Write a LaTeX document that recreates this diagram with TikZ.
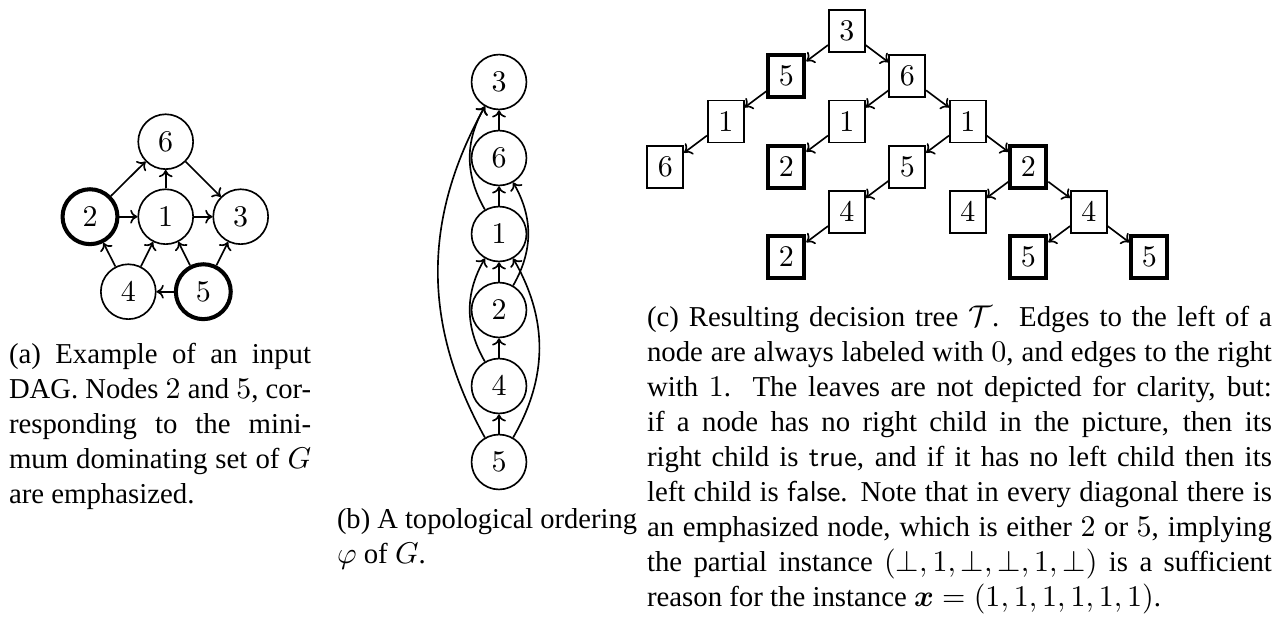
\documentclass[tikz,border=0pt]{standalone}
\usepackage[no-math]{fontspec}
\setmainfont{Liberation Serif}
\usepackage{amsmath}
\usepackage{graphicx}
\usetikzlibrary{arrows.meta}

% Set a caption line to an exact width: stretch the spaces if it is short,
% squeeze it horizontally if it is too long.
\newlength\fitnat
\newcommand\fitline[2]{%
  \settowidth\fitnat{#2}%
  \ifdim\fitnat>#1\relax\resizebox{#1}{\height}{#2}\else\makebox[#1][s]{#2}\fi}

\begin{document}
\begin{tikzpicture}[x=0.33333pt,y=0.33333pt,
  font=\fontsize{9.6}{11.67}\selectfont,
  vert/.style={circle,draw,line width=0.55pt,minimum size=18.3pt,inner sep=0pt,
    font=\fontsize{10}{12}\selectfont},
  dom/.style={line width=1.35pt},
  tnode/.style={rectangle,draw,line width=0.55pt,minimum width=12pt,minimum height=14pt,
    inner sep=0pt,font=\fontsize{10.2}{12}\selectfont},
  arc/.style={-{To[length=2.4pt,width=4.6pt]},line width=0.55pt},
  capbox/.style={anchor=base west,inner sep=0pt,outer sep=0pt}]
\useasboundingbox (0,0) rectangle (1288,-619);

% (a) the input DAG
\node[vert]     (a6) at (165.7,-141.7) {$6$};
\node[vert,dom] (a2) at (90,-216.7)    {$2$};
\node[vert]     (a1) at (165.7,-216.7) {$1$};
\node[vert]     (a3) at (240.7,-216.7) {$3$};
\node[vert]     (a4) at (128.3,-291.7) {$4$};
\node[vert,dom] (a5) at (203.3,-291.7) {$5$};
\draw[arc] (a2) -- (a6);
\draw[arc] (a6) -- (a3);
\draw[arc] (a1) -- (a6);
\draw[arc] (a2) -- (a1);
\draw[arc] (a1) -- (a3);
\draw[arc] (a4) -- (a2);
\draw[arc] (a4) -- (a1);
\draw[arc] (a5) -- (a1);
\draw[arc] (a5) -- (a3);
\draw[arc] (a5) -- (a4);

% (b) topological ordering
\node[vert] (b3) at (499,-82)  {$3$};
\node[vert] (b6) at (499,-158) {$6$};
\node[vert] (b1) at (499,-234) {$1$};
\node[vert] (b2) at (499,-310) {$2$};
\node[vert] (b4) at (499,-386) {$4$};
\node[vert] (b5) at (499,-462) {$5$};
\draw[arc] (b6) -- (b3);
\draw[arc] (b1) -- (b6);
\draw[arc] (b2) -- (b1);
\draw[arc] (b4) -- (b2);
\draw[arc] (b5) -- (b4);
\draw[arc] (b1.120) to[out=120,in=240] (b3.240);
\draw[arc] (b5.120) to[out=119,in=241] (b3.240);
\draw[arc] (b4.120) to[out=120,in=240] (b1.240);
\draw[arc] (b2.60) to[out=60,in=300] (b6.300);
\draw[arc] (b5.60) to[out=60,in=300] (b1.300);

% (c) decision tree
\node[tnode]     (t3)   at (846.8,-31)    {$3$};
\node[tnode,dom] (t5)   at (786.3,-76.3)  {$5$};
\node[tnode]     (t6)   at (907.3,-76.3)  {$6$};
\node[tnode]     (t51)  at (725.8,-121.5) {$1$};
\node[tnode]     (t516) at (665.3,-166.8) {$6$};
\node[tnode]     (t61)  at (846.8,-121.5) {$1$};
\node[tnode,dom] (t612) at (786.3,-166.8) {$2$};
\node[tnode]     (t6r)  at (967.8,-121.5) {$1$};
\node[tnode]     (tr5)  at (907.3,-166.8) {$5$};
\node[tnode]     (tr54) at (846.8,-212)   {$4$};
\node[tnode,dom] (tr542) at (786.3,-257.3) {$2$};
\node[tnode,dom] (tr2)  at (1028.3,-166.8) {$2$};
\node[tnode]     (tr24) at (967.8,-212)   {$4$};
\node[tnode]     (tr2r) at (1088.8,-212)  {$4$};
\node[tnode,dom] (tl5)  at (1028.3,-257.3) {$5$};
\node[tnode,dom] (tr5b) at (1149.3,-257.3) {$5$};
\draw[arc] (t3) -- (t5);
\draw[arc] (t3) -- (t6);
\draw[arc] (t5) -- (t51);
\draw[arc] (t51) -- (t516);
\draw[arc] (t6) -- (t61);
\draw[arc] (t61) -- (t612);
\draw[arc] (t6) -- (t6r);
\draw[arc] (t6r) -- (tr5);
\draw[arc] (tr5) -- (tr54);
\draw[arc] (tr54) -- (tr542);
\draw[arc] (t6r) -- (tr2);
\draw[arc] (tr2) -- (tr24);
\draw[arc] (tr2) -- (tr2r);
\draw[arc] (tr2r) -- (tl5);
\draw[arc] (tr2r) -- (tr5b);

% captions
\node[capbox] (capa) at (9,-363) {\parbox[t]{100.7pt}{%
  \fitline{100.7pt}{(a) Example of an input}\\
  \fitline{100.7pt}{DAG. Nodes $2$ and $5$, cor-}\\
  \fitline{100.7pt}{responding to the mini-}\\
  \fitline{100.7pt}{mum dominating set of $G$}\\
  are emphasized.}};
\node[capbox] (capb) at (337,-528) {\parbox[t]{100pt}{%
  \fitline{100pt}{(b) A topological ordering}\\
  $\varphi$ of $G$.}};
\node[capbox] (capc) at (647,-326) {\parbox[t]{208.3pt}{%
  \fitline{208.3pt}{(c) Resulting decision tree $\mathcal{T}$.\ \ Edges to the left of a}\\
  \fitline{208.3pt}{node are always labeled with $0$, and edges to the right}\\
  \fitline{208.3pt}{with $1$.\ \ The leaves are not depicted for clarity, but:}\\
  \fitline{208.3pt}{if a node has no right child in the picture, then its}\\
  \fitline{208.3pt}{right child is \textsf{true}, and if it has no left child then its}\\
  \fitline{208.3pt}{left child is \textsf{false}. Note that in every diagonal there is}\\
  \fitline{208.3pt}{an emphasized node, which is either $2$ or $5$, implying}\\
  \fitline{208.3pt}{the partial instance $(\bot,1,\bot,\bot,1,\bot)$ is a sufficient}\\
  reason for the instance $\boldsymbol{x}=(1,1,1,1,1,1)$.}};
\end{tikzpicture}
\end{document}
